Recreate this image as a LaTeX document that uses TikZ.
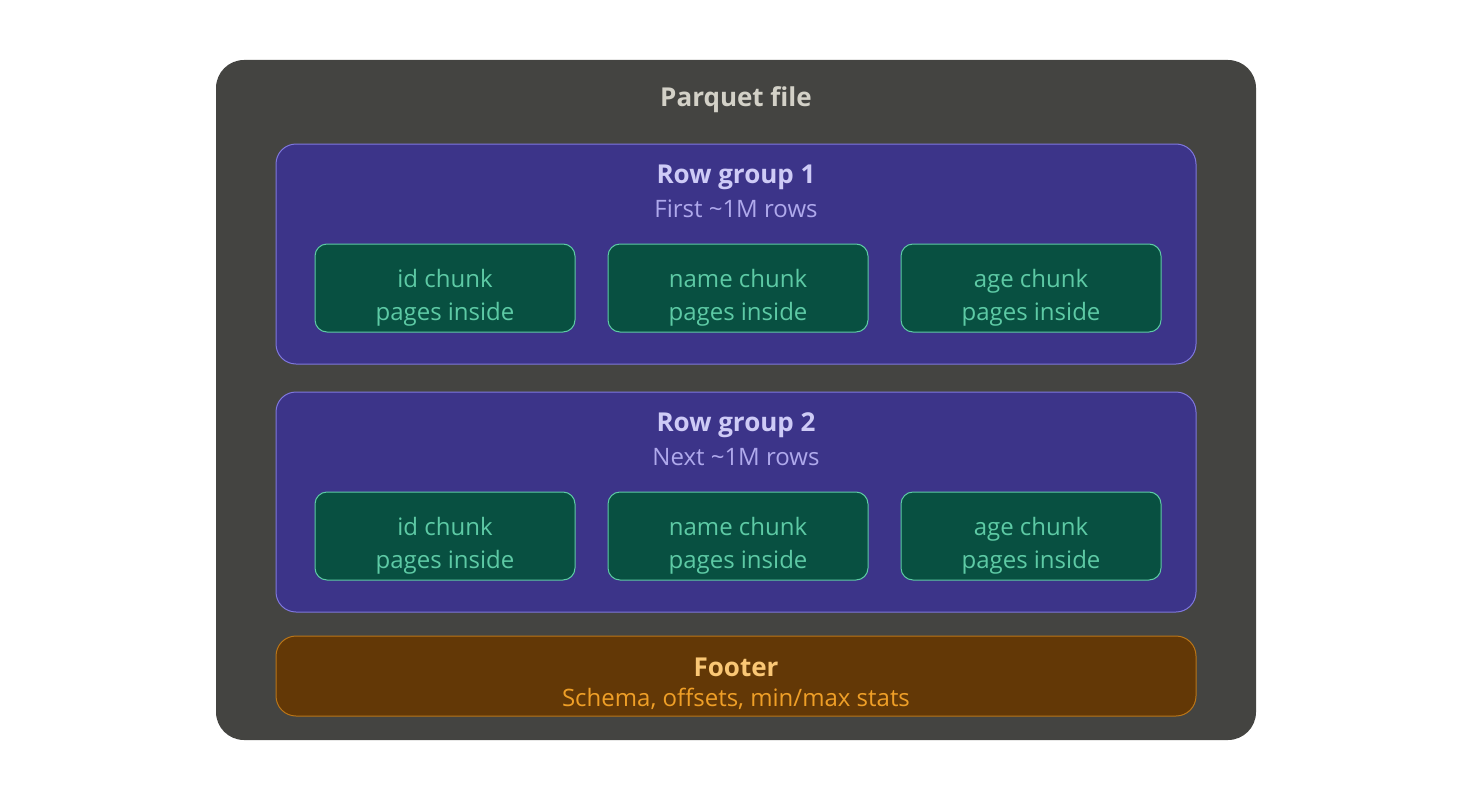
\documentclass[tikz,border=0pt]{standalone}
\usepackage{fontspec}
\setmainfont{Open Sans}
\usetikzlibrary{positioning}

\definecolor{filefill}{HTML}{444441}
\definecolor{filetext}{HTML}{D3D1C7}
\definecolor{grpfill}{HTML}{3C3489}
\definecolor{grpline}{HTML}{7F77DD}
\definecolor{grptitle}{HTML}{CECBF6}
\definecolor{grpsub}{HTML}{AFA9EC}
\definecolor{chkfill}{HTML}{085041}
\definecolor{chkline}{HTML}{5DCAA5}
\definecolor{ftrfill}{HTML}{633806}
\definecolor{ftrline}{HTML}{BA7517}
\definecolor{ftrtitle}{HTML}{FAC775}
\definecolor{ftrsub}{HTML}{EF9F27}

\begin{document}
\begin{tikzpicture}[
		x=1pt, y=-1pt,
		node distance=32pt and 32pt,
		filebox/.style={fill=filefill, rounded corners=28pt, minimum width=1040pt, minimum height=680pt},
		groupbox/.style={draw=grpline, fill=grpfill, line width=1pt, rounded corners=20pt, minimum width=920pt, minimum height=220pt},
		chunkbox/.style={draw=chkline, fill=chkfill, line width=1pt, rounded corners=12pt, minimum width=260pt, minimum height=88pt},
		chunktext/.style={align=center, text=chkline, yshift=-10pt, font=\fontsize{24}{33}\selectfont},
		footerbox/.style={draw=ftrline, fill=ftrfill, line width=1pt, rounded corners=20pt, minimum width=920pt, minimum height=80pt},
		heading/.style={font=\fontsize{26}{30}\selectfont\bfseries},
		subline/.style={font=\fontsize{24}{28}\selectfont}
	]
	\useasboundingbox (0,0) rectangle (1472,800);

		% File
		\node[filebox] (file) at (736,400) {};
		\node[heading, text=filetext] (filetitle) at (736,100) {Parquet file};

		% Row group 1
		\node[groupbox] (rg1) at (736,254) {};
		\node[heading, text=grptitle] (rg1title) at (736,177) {Row group 1};
		\node[subline, text=grpsub] (rg1sub) at (736,209) {First \char"007E{}1M rows};
		\node[chunkbox] (rg1name) at (738,288) {};
		\node[chunkbox, left=of rg1name] (rg1id) {};
		\node[chunkbox, right=of rg1name] (rg1age) {};
		\node[chunktext] (rg1idtext) at (rg1id) {id chunk\\pages inside};
		\node[chunktext] (rg1nametext) at (rg1name) {name chunk\\pages inside};
		\node[chunktext] (rg1agetext) at (rg1age) {age chunk\\pages inside};

		% Row group 2
		\node[groupbox] (rg2) at (736,502) {};
		\node[heading, text=grptitle] (rg2title) at (736,425) {Row group 2};
		\node[subline, text=grpsub] (rg2sub) at (736,457) {Next \char"007E{}1M rows};
		\node[chunkbox] (rg2name) at (738,536) {};
		\node[chunkbox, left=of rg2name] (rg2id) {};
		\node[chunkbox, right=of rg2name] (rg2age) {};
		\node[chunktext] (rg2idtext) at (rg2id) {id chunk\\pages inside};
		\node[chunktext] (rg2nametext) at (rg2name) {name chunk\\pages inside};
		\node[chunktext] (rg2agetext) at (rg2age) {age chunk\\pages inside};

		% Footer
		\node[footerbox] (footer) at (736,676) {};
		\node[heading, text=ftrtitle] (ftrtitle) at (736,667) {Footer};
		\node[subline, text=ftrsub] (ftrsub) at (736,699) {Schema, offsets, min/max stats};

	\end{tikzpicture}
\end{document}
